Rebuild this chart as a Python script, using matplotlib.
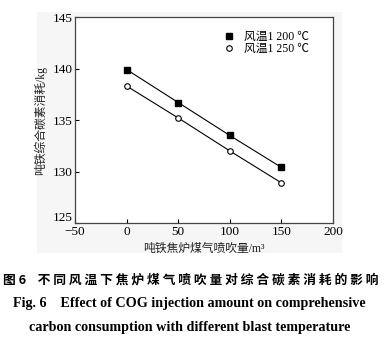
import matplotlib
matplotlib.use("Agg")
import matplotlib.pyplot as plt
import matplotlib.transforms as mtransforms
from matplotlib.patches import Rectangle

# injection amount (m3 per t iron) and carbon consumption (kg per t iron)
cog = [0, 50, 100, 150]
carbon_1200 = [139.9, 136.7, 133.5, 130.4]
carbon_1250 = [138.3, 135.2, 132.0, 128.9]
labels = ["风温1 200 ℃", "风温1 250 ℃"]

FONT = ["Liberation Serif", "Noto Sans CJK SC"]

fig = plt.figure(figsize=(3.89, 3.41), dpi=100)
fig.patches.append(Rectangle((0.095, 0.258), 0.784, 0.707, transform=fig.transFigure,
                             facecolor="#f6f6f6", edgecolor="none", zorder=-1))
ax = fig.add_axes([0.193, 0.346, 0.663, 0.604])
ax.set_facecolor("white")

ax.plot(cog, carbon_1200, color="black", lw=0.8, marker="s", ms=4,
        mfc="black", mec="black", label=labels[0])
ax.plot(cog, carbon_1250, color="black", lw=0.8, marker="o", ms=4,
        mfc="white", mec="black", mew=0.8, label=labels[1])

ax.set_xlim(-50, 200)
ax.set_ylim(125, 145)
ax.set_xticks([-50, 0, 50, 100, 150, 200])
ax.set_yticks([125, 130, 135, 140, 145])
ax.tick_params(direction="in", length=3, width=0.8, labelsize=9.5, pad=2)
for lab in ax.get_xticklabels() + ax.get_yticklabels():
    lab.set_family(FONT)
# lift the bottom y label a little so it clears the -50
lift = mtransforms.ScaledTranslation(0, 5 / 72, fig.dpi_scale_trans)
ylab0 = ax.get_yticklabels()[0]
ylab0.set_transform(ylab0.get_transform() + lift)
for s in ax.spines.values():
    s.set_linewidth(0.9)
    s.set_color("#444444")

ax.set_xlabel("吨铁焦炉煤气喷吹量/m³", family=FONT, fontsize=8.5, labelpad=4, color="#222222")
ax.set_ylabel("吨铁综合碳素消耗/kg", family=FONT, fontsize=8.5, labelpad=4, color="#222222")

leg = ax.legend(loc="upper left", bbox_to_anchor=(0.53, 0.985), frameon=False,
                prop={"family": FONT, "size": 8.5}, handlelength=1.2,
                handletextpad=0.6, labelspacing=0.05)
for h in leg.legend_handles:
    h.set_linestyle("none")

fig.text(0.49, 0.178, "图 6    不 同 风 温 下 焦 炉 煤 气 喷 吹 量 对 综 合 碳 素 消 耗 的 影 响",
         ha="center", va="center", family=["Noto Sans CJK SC"], fontsize=9.2,
         fontweight="bold")
fig.text(0.487, 0.111, "Fig. 6    Effect of COG injection amount on comprehensive",
         ha="center", va="center", family=FONT, fontsize=10.2, fontweight="bold")
fig.text(0.487, 0.041, "carbon consumption with different blast temperature",
         ha="center", va="center", family=FONT, fontsize=10.2, fontweight="bold")

fig.savefig("out.png", dpi=100)
